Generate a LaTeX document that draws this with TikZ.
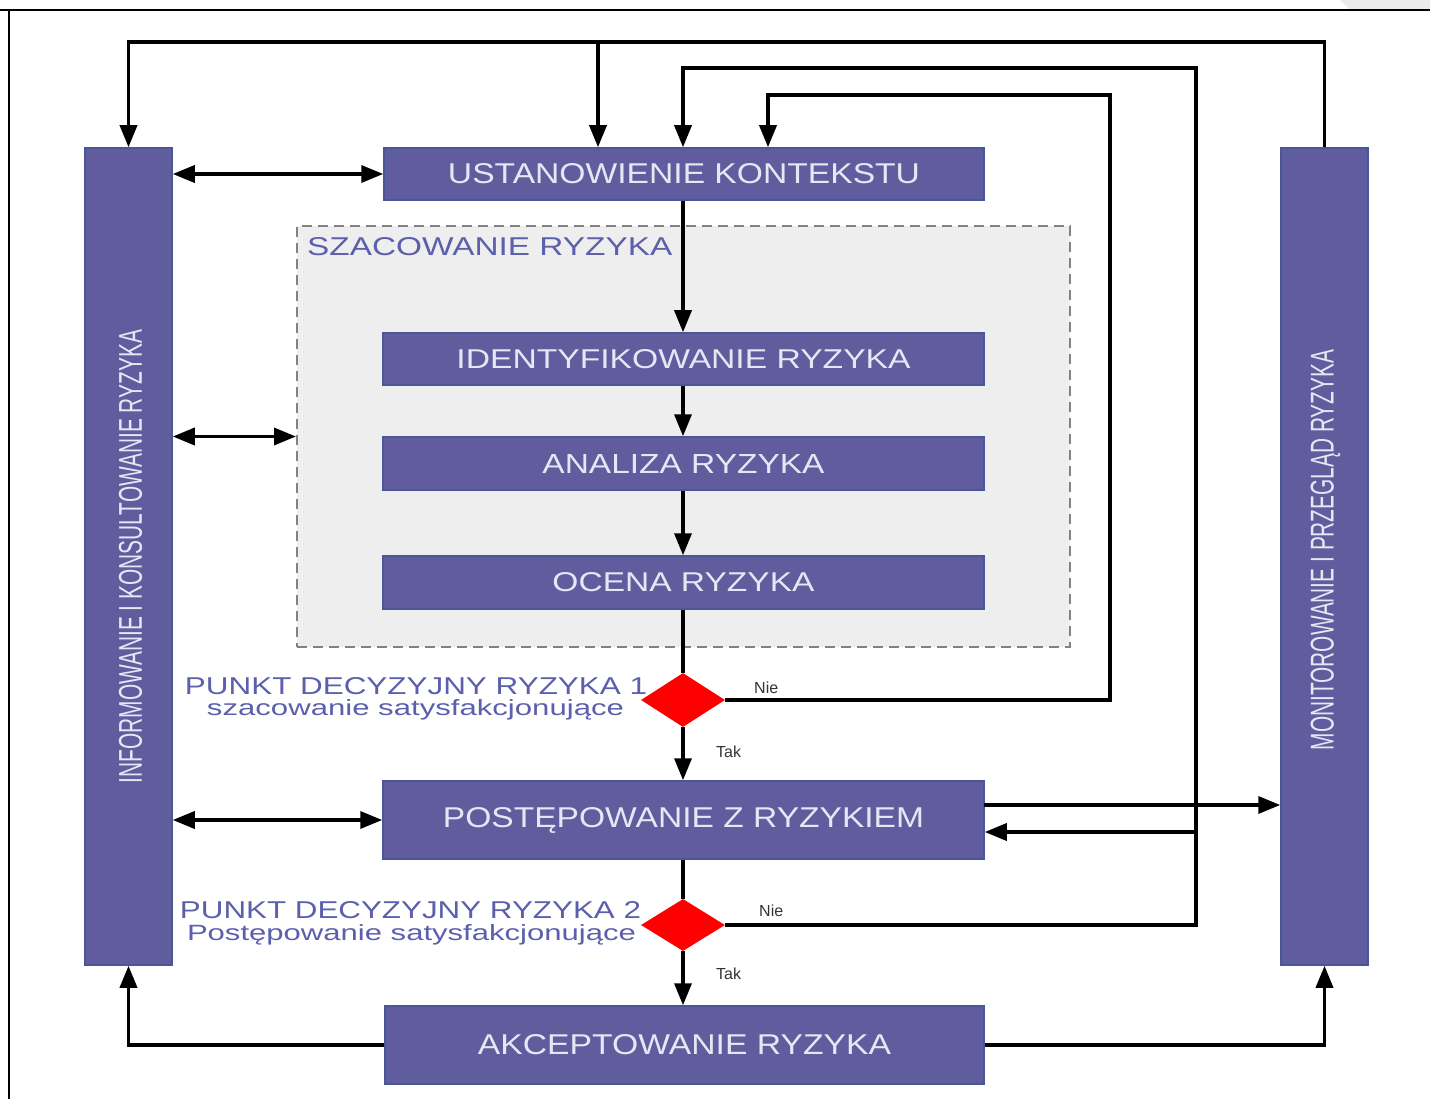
\documentclass[tikz,border=0pt]{standalone}
\usepackage{fontspec}
\usepackage{graphicx}
\setmainfont{Liberation Sans}
\usetikzlibrary{arrows.meta,shapes.geometric,calc}
\definecolor{boxc}{RGB}{96,93,158}
\definecolor{boxd}{RGB}{74,86,152}
\definecolor{txtc}{RGB}{230,230,244}
\definecolor{labc}{RGB}{92,96,172}
\definecolor{szf}{RGB}{238,238,238}
\definecolor{szd}{RGB}{130,130,130}
\newcommand{\fitt}[3]{\resizebox{#1pt}{#2pt}{#3}}
\begin{document}
\begin{tikzpicture}[x=1pt,y=-1pt,
  box/.style={draw=boxd, line width=1.5pt, fill=boxc, text=txtc, inner sep=0pt},
  ln/.style={line width=3.5pt, line join=miter, draw=black},
  arr/.style={ln, -{Triangle[length=22pt,width=17pt]}},
  darr/.style={ln, {Triangle[length=22pt,width=17pt]}-{Triangle[length=22pt,width=17pt]}},
  dec/.style={diamond, fill=red, inner sep=0pt, minimum width=84pt, minimum height=54pt, aspect=1.55},
  lab/.style={text=labc, inner sep=0pt},
  yn/.style={text=black!80, font=\fontsize{16}{18}\selectfont, inner sep=0pt, anchor=base west}
]
\useasboundingbox (0,0) rectangle (1430,1099);
\fill[white] (0,0) rectangle (1430,1099);
% frame
\fill[black!8] (1340,0) -- (1430,0) -- (1430,10) -- (1350,10) -- cycle;
\draw[line width=2.5pt] (0,10) -- (1430,10);
\draw[line width=2.5pt] (9,10) -- (9,1099);

% dashed group
\node[draw=szd, fill=szf, line width=2pt, dash pattern=on 10pt off 6pt, minimum width=773pt, minimum height=421pt, inner sep=0pt] (szac) at (683.5,436.5) {};
\node[lab, anchor=west] (szaclab) at (307,247) {\fitt{365}{18}{SZACOWANIE RYZYKA}};

% side bars
\node[box, minimum width=87pt, minimum height=817pt] (left) at (128.5,556.5) {};
\node[rotate=90, text=txtc, inner sep=0pt] (lefttxt) at (130.5,556.5) {\fitt{453}{23}{INFORMOWANIE I KONSULTOWANIE RYZYKA}};
\node[box, minimum width=87pt, minimum height=817pt] (right) at (1324.5,556.5) {};
\node[rotate=90, text=txtc, inner sep=0pt] (righttxt) at (1325.5,550) {\fitt{400}{23}{MONITOROWANIE I PRZEGLĄD RYZYKA}};

% main boxes
\node[box, minimum width=600pt, minimum height=52pt] (ctx) at (684,174) {\fitt{472}{20}{USTANOWIENIE KONTEKSTU}};
\node[box, minimum width=601pt, minimum height=52pt] (ident) at (683.5,359) {\fitt{454}{19}{IDENTYFIKOWANIE RYZYKA}};
\node[box, minimum width=601pt, minimum height=53pt] (anal) at (683.5,463.5) {\fitt{282}{19}{ANALIZA RYZYKA}};
\node[box, minimum width=601pt, minimum height=53pt] (ocena) at (683.5,582.5) {\fitt{262}{19}{OCENA RYZYKA}};
\node[box, minimum width=601pt, minimum height=78pt] (post) at (683.5,820) {\fitt{481}{20}{POSTĘPOWANIE Z RYZYKIEM}};
\node[box, minimum width=599pt, minimum height=78pt] (akc) at (684.5,1045) {\fitt{413}{20}{AKCEPTOWANIE RYZYKA}};

% decisions
\node[dec] (d1) at (683,700) {};
\node[dec, minimum height=52pt] (d2) at (683,925) {};
\node[lab, anchor=base] (l1a) at (416,694) {\fitt{462}{17}{PUNKT DECYZYJNY RYZYKA 1}};
\node[lab, anchor=base] (l1b) at (415.5,715) {\fitt{417}{16}{szacowanie satysfakcjonujące}};
\node[lab, anchor=base] (l2a) at (410.5,918) {\fitt{461}{17}{PUNKT DECYZYJNY RYZYKA 2}};
\node[lab, anchor=base] (l2b) at (411.5,940) {\fitt{449}{16}{Postępowanie satysfakcjonujące}};
\node[yn] (nie1) at (754,693) {Nie};
\node[yn] (tak1) at (716,757) {Tak};
\node[yn] (nie2) at (759,916) {Nie};
\node[yn] (tak2) at (716,979) {Tak};

% coordinates
\coordinate (tL) at (128.5,42);
\coordinate (tM) at (598,42);
\coordinate (tR) at (1324.5,42);
\coordinate (m1) at (683,68);
\coordinate (m2) at (1196,68);
\coordinate (m3) at (1196,925);
\coordinate (mb) at (1196,832);
\coordinate (n1) at (768,95);
\coordinate (n2) at (1110,95);
\coordinate (n3) at (1110,700);
\coordinate (bL) at (128.5,1045);
\coordinate (bR) at (1324.5,1045);
\coordinate (pr) at (984,805);

% top loops
\draw[arr] (right.north) -- (tR) -- (tL) -- (left.north);
\draw[arr] (tM) -- (tM |- ctx.north);
\draw[arr] (d2.east) -- (m3) -- (m2) -- (m1) -- (m1 |- ctx.north);
\draw[arr] (mb) -- (mb -| post.east);
\draw[arr] (d1.east) -- (n3) -- (n2) -- (n1) -- (n1 |- ctx.north);

% double arrows to left bar
\draw[darr] (left.east |- ctx.west) -- (ctx.west);
\draw[darr] (left.east |- szac.west) -- (szac.west);
\draw[darr] (left.east |- post.west) -- (post.west);

% to monitoring
\draw[arr] (pr) -- (pr -| right.west);

% bottom
\draw[arr] (akc.west) -- (bL) -- (left.south);
\draw[arr] (akc.east) -- (bR) -- (right.south);

% central chain
\draw[arr] (ctx.south -| d1) -- (ident.north -| d1);
\draw[arr] (ident.south -| d1) -- (anal.north -| d1);
\draw[arr] (anal.south -| d1) -- (ocena.north -| d1);
\draw[ln] (ocena.south -| d1) -- (d1.north);
\draw[arr] (d1.south) -- (post.north -| d1);
\draw[ln] (post.south -| d2) -- (d2.north);
\draw[arr] (d2.south) -- (akc.north -| d2);
\end{tikzpicture}
\end{document}
